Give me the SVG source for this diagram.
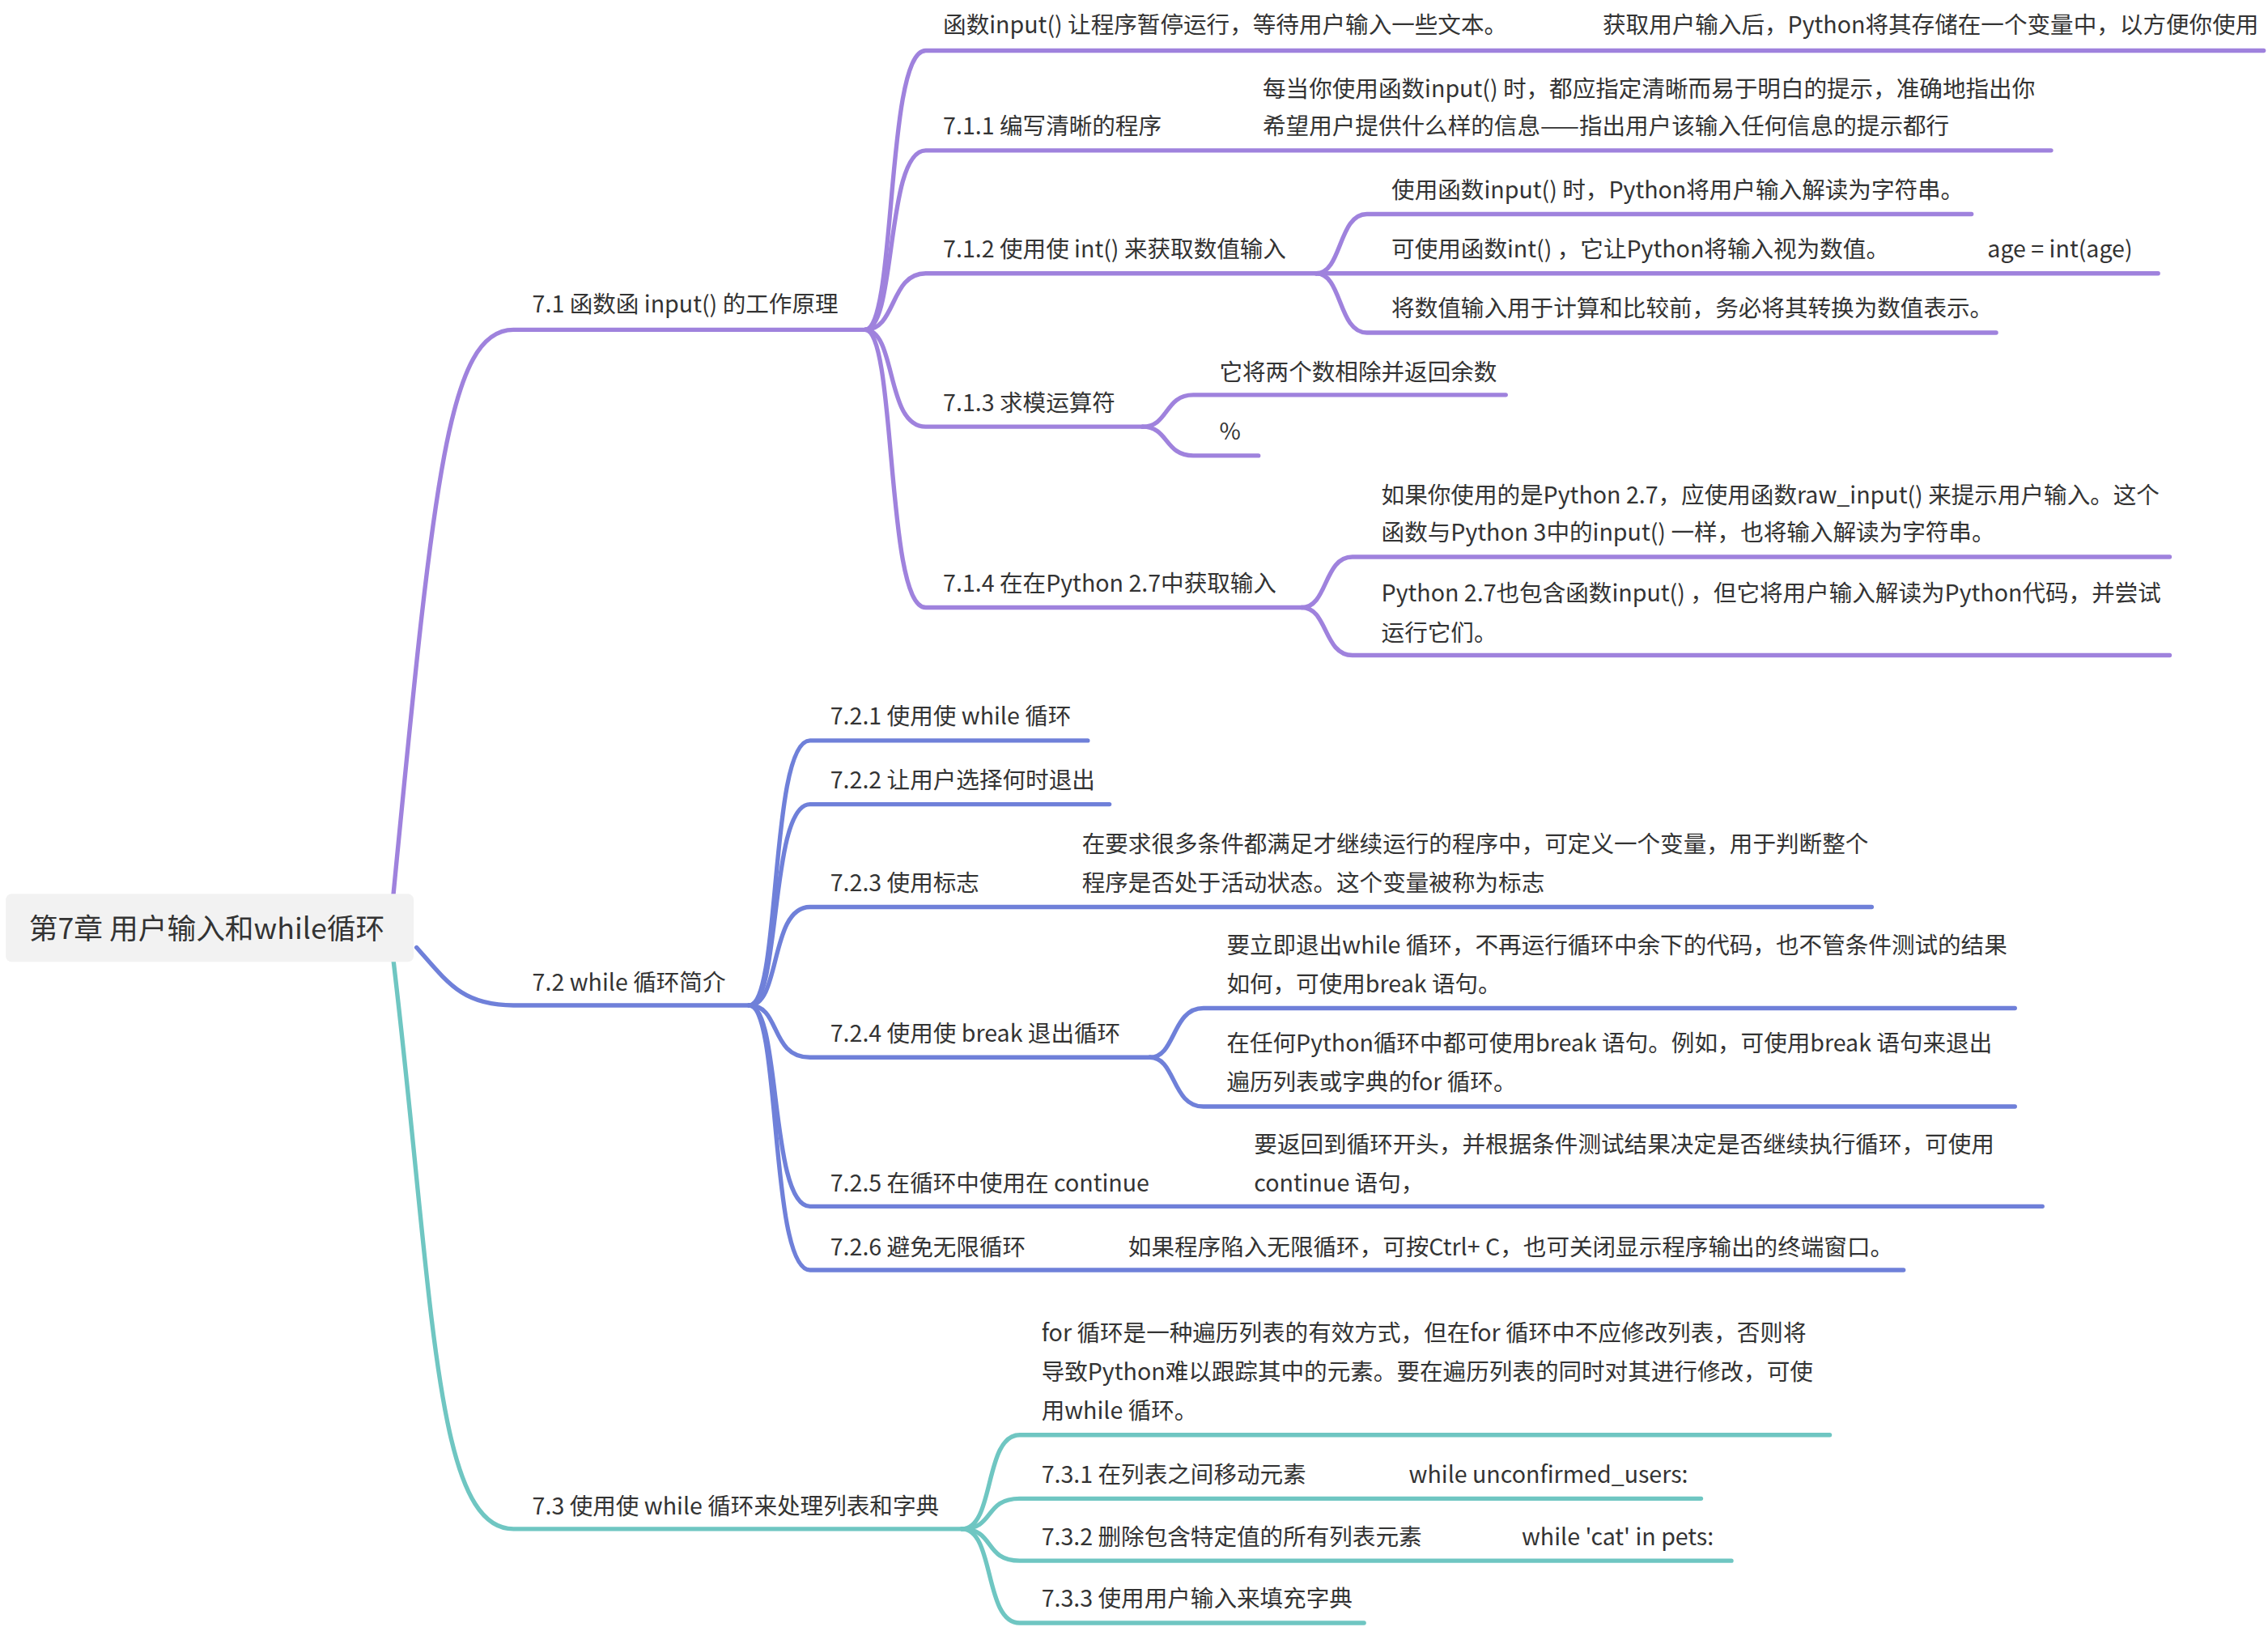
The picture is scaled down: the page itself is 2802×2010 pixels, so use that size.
<svg xmlns="http://www.w3.org/2000/svg" width="2802" height="2010" viewBox="0 0 2802 2010">
<style>
text{font-family:"Noto Sans CJK SC","Noto Sans",sans-serif;font-size:16px;fill:#333}
.p{fill:none;stroke:#9f82dd;stroke-width:3;stroke-linecap:round}
.b{fill:none;stroke:#6f80d9;stroke-width:3;stroke-linecap:round}
.t{fill:none;stroke:#6fc6c2;stroke-width:3;stroke-linecap:round}
</style>
<rect width="2802" height="2010" fill="#fff"/>
<g transform="scale(1.787)">
<g id="connectors">
<path class="p" d="M272,618 C300,330 310,228 355,228 L598,228"/>
<path class="b" d="M288,655 C310,680 320,695 355,695 L518,695"/>
<path class="t" d="M272,664 C300,900 300,1057 355,1057 L665,1057"/>
<path class="p" d="M598,228 C620,228 612,35 640,35 L1565,35"/>
<path class="p" d="M598,228 C620,228 612,104 640,104 L1418,104"/>
<path class="p" d="M598,228 C620,228 615,189 640,189 L910,189"/>
<path class="p" d="M598,228 C620,228 612,295 640,295 L790,295"/>
<path class="p" d="M598,228 C620,228 612,420 640,420 L900,420"/>
<path class="p" d="M910,189 C928,189 925,148 945,148 L1363,148"/>
<path class="p" d="M910,189 L1492,189"/>
<path class="p" d="M910,189 C928,189 925,230 945,230 L1380,230"/>
<path class="p" d="M790,295 C808,295 805,273 825,273 L1041,273"/>
<path class="p" d="M790,295 C808,295 805,315 825,315 L870,315"/>
<path class="p" d="M900,420 C918,420 915,385 935,385 L1500,385"/>
<path class="p" d="M900,420 C918,420 915,453 935,453 L1500,453"/>
<path class="b" d="M518,695 C540,695 532,512 560,512 L752,512"/>
<path class="b" d="M518,695 C540,695 532,556 560,556 L767,556"/>
<path class="b" d="M518,695 C540,695 532,627 560,627 L1294,627"/>
<path class="b" d="M518,695 C540,695 532,731 560,731 L795,731"/>
<path class="b" d="M518,695 C540,695 532,834 560,834 L1412,834"/>
<path class="b" d="M518,695 C540,695 532,878 560,878 L1316,878"/>
<path class="b" d="M795,731 C813,731 810,697 832,697 L1393,697"/>
<path class="b" d="M795,731 C813,731 810,765 832,765 L1393,765"/>
<path class="t" d="M665,1057 C688,1057 680,992 705,992 L1265,992"/>
<path class="t" d="M665,1057 C688,1057 680,1036 705,1036 L1176,1036"/>
<path class="t" d="M665,1057 C688,1057 680,1079 705,1079 L1197,1079"/>
<path class="t" d="M665,1057 C688,1057 680,1122 705,1122 L943,1122"/>
</g>
<g id="root"><rect x="4" y="618" width="282" height="47" rx="4" fill="#f2f2f2"/><text x="20" y="649" style="font-size:20px">第7章 用户输入和while循环</text></g>
<g id="n71"><text x="368" y="216">7.1 函数函 input() 的工作原理</text></g>
<g id="n710"><text x="652" y="23">函数input() 让程序暂停运行，等待用户输入一些文本。</text><text x="1108" y="23">获取用户输入后，Python将其存储在一个变量中，以方便你使用</text></g>
<g id="n711"><text x="652" y="93">7.1.1 编写清晰的程序</text><text x="873" y="67">每当你使用函数input() 时，都应指定清晰而易于明白的提示，准确地指出你</text><text x="873" y="93">希望用户提供什么样的信息——指出用户该输入任何信息的提示都行</text></g>
<g id="n712"><text x="652" y="178">7.1.2 使用使 int() 来获取数值输入</text></g>
<g id="n712a"><text x="962" y="137">使用函数input() 时，Python将用户输入解读为字符串。</text></g>
<g id="n712b"><text x="962" y="178">可使用函数int() ，它让Python将输入视为数值。</text><text x="1374" y="178">age = int(age)</text></g>
<g id="n712c"><text x="962" y="219">将数值输入用于计算和比较前，务必将其转换为数值表示。</text></g>
<g id="n713"><text x="652" y="284">7.1.3 求模运算符</text></g>
<g id="n713a"><text x="843" y="263">它将两个数相除并返回余数</text></g>
<g id="n713b"><text x="843" y="304">%</text></g>
<g id="n714"><text x="652" y="409">7.1.4 在在Python 2.7中获取输入</text></g>
<g id="n714a"><text x="955" y="348">如果你使用的是Python 2.7，应使用函数raw_input() 来提示用户输入。这个</text><text x="955" y="374">函数与Python 3中的input() 一样，也将输入解读为字符串。</text></g>
<g id="n714b"><text x="955" y="416">Python 2.7也包含函数input() ，但它将用户输入解读为Python代码，并尝试</text><text x="955" y="443">运行它们。</text></g>
<g id="n72"><text x="368" y="685">7.2 while 循环简介</text></g>
<g id="n721"><text x="574" y="501">7.2.1 使用使 while 循环</text></g>
<g id="n722"><text x="574" y="545">7.2.2 让用户选择何时退出</text></g>
<g id="n723"><text x="574" y="616">7.2.3 使用标志</text><text x="748" y="589">在要求很多条件都满足才继续运行的程序中，可定义一个变量，用于判断整个</text><text x="748" y="616">程序是否处于活动状态。这个变量被称为标志</text></g>
<g id="n724"><text x="574" y="720">7.2.4 使用使 break 退出循环</text></g>
<g id="n724a"><text x="848" y="659">要立即退出while 循环，不再运行循环中余下的代码，也不管条件测试的结果</text><text x="848" y="686">如何，可使用break 语句。</text></g>
<g id="n724b"><text x="848" y="727">在任何Python循环中都可使用break 语句。例如，可使用break 语句来退出</text><text x="848" y="754">遍历列表或字典的for 循环。</text></g>
<g id="n725"><text x="574" y="824">7.2.5 在循环中使用在 continue</text><text x="867" y="797">要返回到循环开头，并根据条件测试结果决定是否继续执行循环，可使用</text><text x="867" y="824">continue 语句，</text></g>
<g id="n726"><text x="574" y="868">7.2.6 避免无限循环</text><text x="780" y="868">如果程序陷入无限循环，可按Ctrl+ C，也可关闭显示程序输出的终端窗口。</text></g>
<g id="n73"><text x="368" y="1047">7.3 使用使 while 循环来处理列表和字典</text></g>
<g id="n730"><text x="720" y="927">for 循环是一种遍历列表的有效方式，但在for 循环中不应修改列表，否则将</text><text x="720" y="954">导致Python难以跟踪其中的元素。要在遍历列表的同时对其进行修改，可使</text><text x="720" y="981">用while 循环。</text></g>
<g id="n731"><text x="720" y="1025">7.3.1 在列表之间移动元素</text><text x="974" y="1025">while unconfirmed_users:</text></g>
<g id="n732"><text x="720" y="1068">7.3.2 删除包含特定值的所有列表元素</text><text x="1052" y="1068">while 'cat' in pets:</text></g>
<g id="n733"><text x="720" y="1111">7.3.3 使用用户输入来填充字典</text></g>
</g>
</svg>
